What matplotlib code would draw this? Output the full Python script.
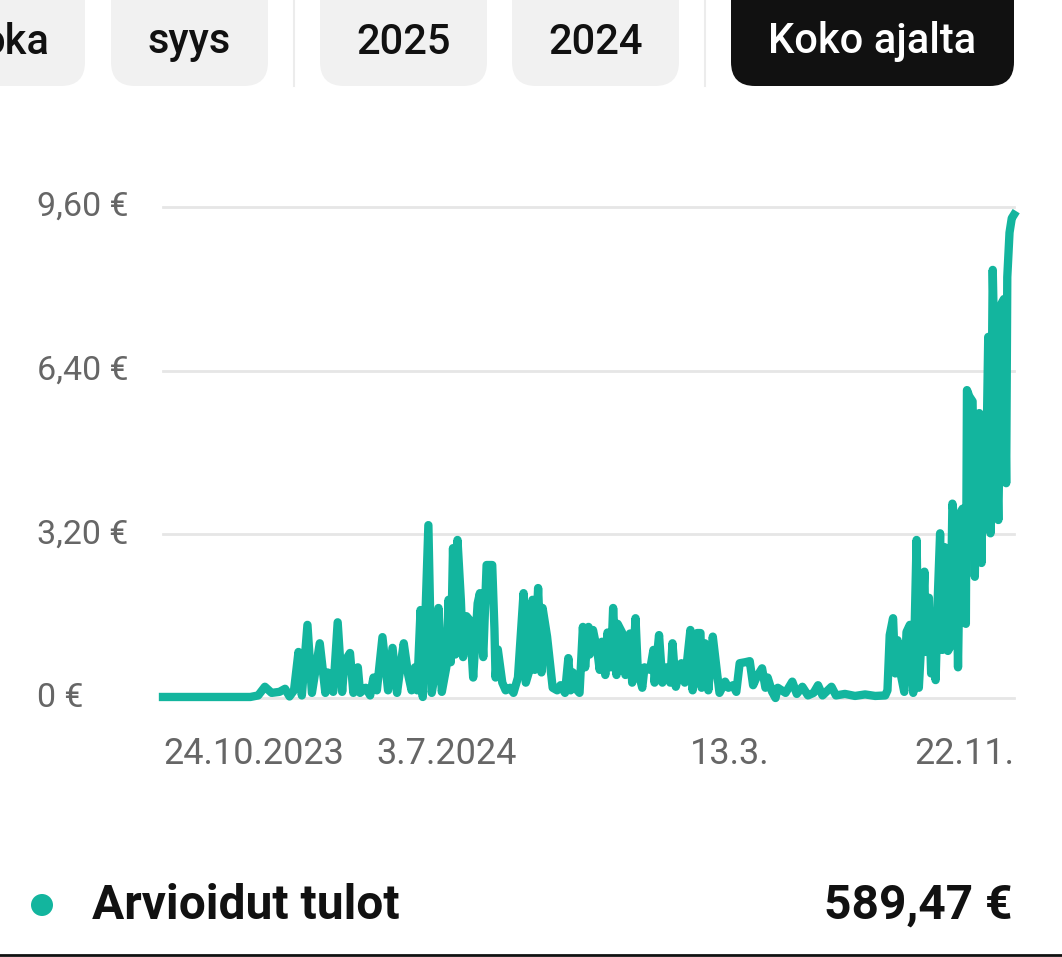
import numpy as np
import pandas as pd
import matplotlib
matplotlib.use("Agg")
import matplotlib.pyplot as plt
from matplotlib.patches import FancyBboxPatch, Circle

plt.rcParams['font.family'] = ['Roboto', 'DejaVu Sans']

# estimated daily earnings (day = days since 24.10.2023)
start = pd.Timestamp('2023-10-24')
end = pd.Timestamp('2025-11-22')
days = [0, 78, 85, 91, 97, 104, 109, 113, 117, 121, 124, 129, 133, 140, 145, 147,
        152, 156, 160, 162, 167, 170, 174, 176, 181, 185, 188, 191, 196, 201, 205,
        209, 212, 215, 219, 222, 225, 227, 230, 232, 237, 240, 243, 246, 249, 253,
        255, 257, 259, 261, 263, 266, 268, 271, 274, 277, 281, 283, 286, 289, 294,
        296, 297, 299, 303, 306, 310, 313, 317, 322, 324, 328, 330, 332, 335, 338,
        339, 343, 346, 348, 352, 355, 359, 362, 364, 366, 370, 372, 375, 377, 380,
        381, 384, 388, 390, 392, 395, 397, 400, 402, 405, 406, 410, 413, 417, 419,
        422, 424, 428, 430, 435, 438, 439, 443, 446, 450, 453, 455, 458, 463, 466,
        471, 473, 477, 480, 481, 484, 487, 491, 495, 497, 502, 505, 509, 512, 515,
        520, 524, 527, 530, 535, 538, 540, 544, 547, 549, 556, 562, 566, 571, 576,
        581, 585, 589, 597, 601, 609, 618, 627, 636, 645, 647, 649, 652, 654, 656,
        659, 662, 664, 667, 670, 673, 675, 678, 680, 681, 684, 686, 688, 690, 692,
        694, 696, 698, 701, 703, 705, 708, 710, 712, 714, 717, 718, 720, 723, 724,
        725, 727, 729, 731, 732, 735, 737, 739, 741, 744, 746, 749, 751, 753, 754,
        756, 758, 760]
values = [0.02, 0.02, 0.05, 0.22, 0.10, 0.12, 0.18, 0.03, 0.15, 0.90, 0.05, 1.43, 0.10, 1.07, 0.10, 0.50,
          0.12, 1.48, 0.12, 0.70, 0.88, 0.10, 0.60, 0.10, 0.20, 0.05, 0.40, 0.15, 1.19, 0.15, 0.98,
          0.10, 0.60, 1.07, 0.45, 0.15, 0.60, 0.15, 1.72, 0.02, 3.38, 0.10, 0.50, 1.76, 0.12, 0.60,
          1.92, 0.70, 2.93, 0.85, 3.09, 1.92, 0.80, 1.60, 1.52, 0.40, 1.85, 2.05, 0.80, 2.60, 2.60,
          1.35, 0.40, 0.95, 0.30, 0.15, 0.20, 0.10, 0.40, 2.05, 0.30, 0.60, 1.92, 0.55, 2.15, 0.50,
          1.76, 1.20, 0.60, 0.20, 0.15, 0.25, 0.10, 0.78, 0.15, 0.50, 0.15, 0.10, 1.39, 0.60, 1.39,
          0.85, 1.33, 0.90, 0.55, 1.10, 0.45, 1.28, 0.60, 1.76, 0.45, 1.45, 1.28, 0.45, 1.26, 0.30,
          1.56, 0.55, 0.20, 0.60, 0.55, 0.94, 0.30, 1.23, 0.30, 0.60, 0.30, 1.07, 0.22, 0.68, 0.30,
          1.33, 0.15, 1.27, 1.27, 0.20, 1.07, 0.15, 1.20, 0.45, 0.10, 0.32, 0.20, 0.25, 0.12, 0.68,
          0.70, 0.72, 0.25, 0.40, 0.58, 0.20, 0.40, 0.12, 0.00, 0.20, 0.10, 0.32, 0.08, 0.22, 0.05,
          0.10, 0.25, 0.05, 0.22, 0.05, 0.08, 0.04, 0.07, 0.04, 0.05, 0.15, 1.23, 1.56, 0.48, 1.13,
          0.45, 0.12, 1.29, 1.43, 0.10, 3.09, 0.20, 1.43, 2.47, 0.90, 1.96, 0.48, 1.46, 0.35, 2.00,
          3.22, 0.94, 2.95, 0.92, 1.00, 3.80, 3.28, 0.60, 3.60, 3.70, 1.45, 6.02, 5.90, 5.80, 4.00,
          2.37, 5.18, 5.57, 2.64, 5.20, 4.20, 7.06, 3.22, 8.37, 5.20, 3.48, 7.72, 7.80, 4.20, 8.23,
          9.10, 9.38, 9.45]

y_ticks = [0, 3.2, 6.4, 9.6]
y_labels = ['0 €', '3,20 €', '6,40 €', '9,60 €']
x_tick_dates = ['2023-10-24', '2024-07-03', '2025-03-13', '2025-11-22']
x_labels = ['24.10.2023', '3.7.2024', '13.3.', '22.11.']
buttons = ['oka', 'syys', '2025', '2024', 'Koko ajalta']
legend_label = 'Arvioidut tulot'
total = '589,47 €'

teal = '#13b59e'
W, H = 1062, 957

fig = plt.figure(figsize=(W / 100, H / 100), dpi=100)

# background layer in pixel coordinates for the app widgets
bg = fig.add_axes([0, 0, 1, 1])
bg.set_xlim(0, W)
bg.set_ylim(H, 0)
bg.axis('off')

boxes = [(-80, 85), (111, 268), (320, 487), (512, 679), (731, 1014)]
for (x0, x1), txt in zip(boxes, buttons):
    dark = txt == 'Koko ajalta'
    bg.add_patch(FancyBboxPatch((x0, -40), x1 - x0, 126,
                                boxstyle='round,pad=0,rounding_size=24',
                                fc='#111111' if dark else '#f1f1f1', ec='none'))
    if x0 < 0:
        bg.text(49, 42, txt, ha='right', va='center', fontsize=30, weight='medium', color='#111111')
    else:
        bg.text((x0 + x1) / 2, 42, txt, ha='center', va='center', fontsize=30, weight='medium',
                color='white' if dark else '#111111')
for xd in (294, 705):
    bg.plot([xd, xd], [0, 86], color='#ececec', lw=1.5)

bg.add_patch(Circle((42, 905), 11, fc=teal, ec='none'))
bg.text(92, 906, legend_label, ha='left', va='center', fontsize=34.5, weight='bold', color='#111111')
bg.text(1012, 906, total, ha='right', va='center', fontsize=34.5, weight='bold', color='#111111')
bg.plot([0, W], [955, 955], color='#111111', lw=2)

# chart
ax = fig.add_axes([163 / W, (H - 698) / H, 851 / W, 491 / H])
ax.patch.set_alpha(0)
dates = start + pd.to_timedelta(days, unit='D')
ax.plot(dates, values, color=teal, lw=6, solid_joinstyle='round', clip_on=False, zorder=3)
ax.set_xlim(start, end)
ax.set_ylim(0, 9.6)
for v in y_ticks:
    ax.axhline(v, color='#e6e6e6', lw=2, zorder=1, clip_on=False)
ax.set_yticks(y_ticks)
ax.set_yticklabels([])
for v, lab in zip(y_ticks, y_labels):
    ax.text(-0.148, v, lab, transform=ax.get_yaxis_transform(), ha='left', va='center',
            fontsize=24.5, color='#666666')
ax.set_xticks(pd.to_datetime(x_tick_dates))
ax.set_xticklabels(x_labels, fontsize=26, color='#666666')
labs = ax.get_xticklabels()
labs[0].set_ha('left')
labs[-1].set_ha('right')
ax.tick_params(length=0, pad=27)
for s in ax.spines.values():
    s.set_visible(False)

fig.savefig('out.png', dpi=100)
